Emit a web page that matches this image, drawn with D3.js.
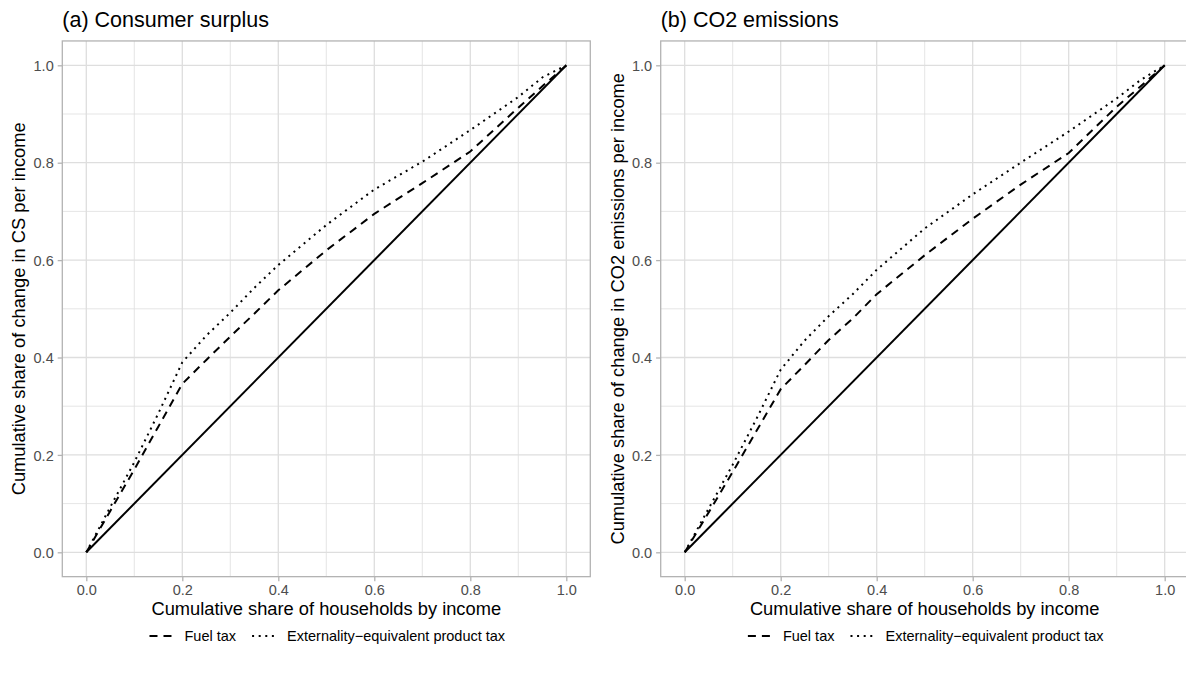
<!DOCTYPE html>
<html lang="en">
<head>
    <meta charset="UTF-8">
    <script src="https://cdn.jsdelivr.net/npm/d3@7"></script>
    <title>Cumulative shares</title>
<style>
    body, html{
        margin: 0;
        padding: 0;
        background: #fff;
    }
    #chart{
        width: 1186px;
        height: 673px;
        overflow: hidden;
    }
</style>
</head>
<body>
<div id="chart"></div>
<script>

// data
// share of households (x), same for every series
const share_x = [0, 0.05, 0.1, 0.15, 0.2, 0.25, 0.3, 0.35, 0.4, 0.5, 0.6, 0.7, 0.8, 0.9, 0.95, 1]

// (a) consumer surplus
const cs_fuel    = [0, 0.085, 0.17, 0.258, 0.346, 0.395, 0.443, 0.49, 0.538, 0.62, 0.695, 0.758, 0.823, 0.913, 0.957, 1]
const cs_product = [0, 0.093, 0.185, 0.285, 0.39, 0.445, 0.492, 0.543, 0.59, 0.672, 0.745, 0.802, 0.867, 0.935, 0.975, 1]

// (b) CO2 emissions
const co2_fuel    = [0, 0.082, 0.165, 0.25, 0.335, 0.385, 0.436, 0.48, 0.53, 0.61, 0.685, 0.755, 0.82, 0.915, 0.957, 1]
const co2_product = [0, 0.09, 0.18, 0.275, 0.375, 0.435, 0.485, 0.53, 0.58, 0.665, 0.735, 0.8, 0.864, 0.932, 0.97, 1]

// equality line
const equal_x = [0, 1]
const equal_y = [0, 1]

const panel_titles = ["(a) Consumer surplus", "(b) CO2 emissions"]
const y_titles = ["Cumulative share of change in CS per income", "Cumulative share of change in CO2 emissions per income"]
const x_title = "Cumulative share of households by income"
const legend_labels = ["Fuel tax", "Externality\u2212equivalent product tax"]
const major_ticks = [0, 0.2, 0.4, 0.6, 0.8, 1.0]
const minor_ticks = [0.1, 0.3, 0.5, 0.7, 0.9]

const W = 1186, H = 673
const FONT = "'Liberation Sans', Arial, Helvetica, sans-serif"

const svg = d3.select("#chart").append("svg")
    .attr("width", W).attr("height", H)
    .style("background", "#fff")

// one panel (one ggplot) per call, ox = left edge of the panel border
const drawPanel = (ox, title, ytitle, fuel, product) => {
    // data range 0..1 mapped to 480px wide, 487px high, 5% padding each side
    const x = d3.scaleLinear().domain([0, 1]).range([ox + 24, ox + 504])
    const y = d3.scaleLinear().domain([0, 1]).range([552.3, 65.3])
    const left = x(-0.05), right = x(1.05), top = y(1.05), bottom = y(-0.05)

    const g = svg.append("g")

    // grid
    const grid = g.append("g")
    const gridLine = (t, w) => {
        grid.append("line").attr("x1", x(t)).attr("x2", x(t)).attr("y1", top).attr("y2", bottom)
            .attr("stroke", "#dedede").attr("stroke-width", w)
        grid.append("line").attr("x1", left).attr("x2", right).attr("y1", y(t)).attr("y2", y(t))
            .attr("stroke", "#dedede").attr("stroke-width", w)
    }
    minor_ticks.forEach(t => gridLine(t, 0.8))
    major_ticks.forEach(t => gridLine(t, 1.3))

    // lines
    const line = d3.line().x(d => x(d[0])).y(d => y(d[1]))
    const series = [
        { data: d3.zip(equal_x, equal_y), dash: null },
        { data: d3.zip(share_x, fuel), dash: "8,6" },
        { data: d3.zip(share_x, product), dash: "2,4.6" },
    ]
    g.append("g").selectAll("path").data(series).enter().append("path")
        .attr("d", d => line(d.data))
        .attr("fill", "none").attr("stroke", "#000").attr("stroke-width", 2)
        .attr("stroke-dasharray", d => d.dash)

    // border
    g.append("rect").attr("x", left).attr("y", top)
        .attr("width", right - left).attr("height", bottom - top)
        .attr("fill", "none").attr("stroke", "#b3b3b3").attr("stroke-width", 1.3)

    // axes
    const fmt = d3.format(".1f")
    const xa = g.append("g").attr("transform", `translate(0,${bottom})`)
        .call(d3.axisBottom(x).tickValues(major_ticks).tickFormat(fmt).tickSize(4.6).tickPadding(3))
    const ya = g.append("g").attr("transform", `translate(${left},0)`)
        .call(d3.axisLeft(y).tickValues(major_ticks).tickFormat(fmt).tickSize(4.6).tickPadding(4))
    ;[xa, ya].forEach(a => {
        a.select(".domain").remove()
        a.selectAll(".tick line").attr("stroke", "#b3b3b3").attr("stroke-width", 1.3)
        a.selectAll(".tick text").attr("fill", "#4d4d4d").attr("font-size", 14.5).attr("font-family", FONT)
    })
    ya.selectAll(".tick text").attr("dy", "0.36em")

    // titles
    g.append("text").attr("x", left).attr("y", 27).text(title)
        .attr("font-family", FONT).attr("font-size", 21.5).attr("fill", "#000")
    g.append("text").attr("x", (left + right) / 2).attr("y", 615).text(x_title)
        .attr("text-anchor", "middle").attr("font-family", FONT).attr("font-size", 18.3).attr("fill", "#000")
    g.append("text").attr("transform", `translate(${left - 37},${(top + bottom) / 2}) rotate(-90)`)
        .text(ytitle).attr("text-anchor", "middle").attr("font-family", FONT).attr("font-size", 18.3).attr("fill", "#000")

    // legend, centred under the panel
    const leg = g.append("g")
    const keyW = 29
    let cx = 0
    legend_labels.forEach((lab, i) => {
        const item = leg.append("g").attr("transform", `translate(${cx},0)`)
        item.append("line").attr("x1", 2).attr("x2", keyW - 2).attr("y1", 0).attr("y2", 0)
            .attr("stroke", "#000").attr("stroke-width", 2)
            .attr("stroke-dasharray", i === 0 ? "8,6" : "2,4.6")
        const t = item.append("text").attr("x", keyW + 8).attr("y", 5).text(lab)
            .attr("font-family", FONT).attr("font-size", 14.5).attr("fill", "#000")
        cx += keyW + 8 + t.node().getComputedTextLength() + 14
    })
    const legW = cx - 14
    leg.attr("transform", `translate(${(left + right) / 2 - legW / 2},636)`)
}

drawPanel(62.3, panel_titles[0], y_titles[0], cs_fuel, cs_product)
drawPanel(660.7, panel_titles[1], y_titles[1], co2_fuel, co2_product)

</script>
</body>
</html>
